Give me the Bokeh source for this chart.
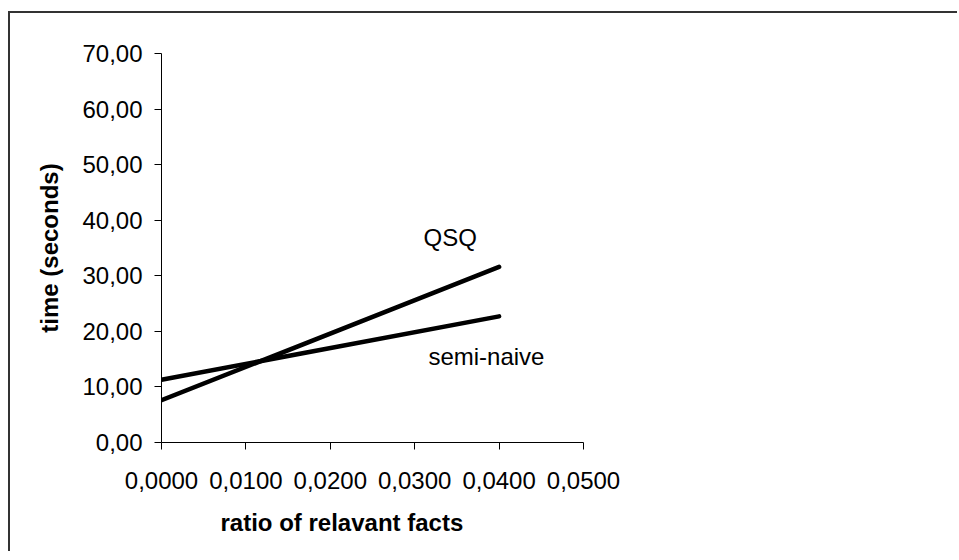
from bokeh.plotting import figure
from bokeh.models import Range1d, FixedTicker, Title, Label
from bokeh.embed import file_html
from bokeh.resources import INLINE

# ---- data ----
ratio = [0.0, 0.04]
qsq = [7.6, 31.6]
semi_naive = [11.3, 22.7]

x_ticks = [0.0, 0.01, 0.02, 0.03, 0.04, 0.05]
x_tick_labels = ["0,0000", "0,0100", "0,0200", "0,0300", "0,0400", "0,0500"]
y_ticks = [0, 10, 20, 30, 40, 50, 60, 70]
y_tick_labels = ["0,00", "10,00", "20,00", "30,00", "40,00", "50,00", "60,00", "70,00"]

series_names = ["QSQ", "semi-naive"]
label_x = [0.0342, 0.0385]
label_y = [36.8, 15.4]

FONT = "Liberation Sans"

p = figure(width=949, height=540, output_backend="svg", toolbar_location=None,
           x_range=Range1d(0, 0.05), y_range=Range1d(0, 70),
           min_border_left=151, min_border_right=376,
           min_border_top=40, min_border_bottom=111,
           background_fill_color="white", border_fill_color="white",
           styles={"margin-left": "10px", "margin-top": "13px",
                   "box-shadow": "-2px -2px 0px 0px #333333"})
p.outline_line_color = None
p.xgrid.grid_line_color = None
p.ygrid.grid_line_color = None

for ax in (p.xaxis[0], p.yaxis[0]):
    ax.axis_line_color = "black"
    ax.axis_line_width = 1
    ax.major_tick_line_color = "black"
    ax.major_tick_in = 0
    ax.major_tick_out = 7
    ax.minor_tick_line_color = None
    ax.major_label_text_font = FONT
    ax.major_label_text_font_size = "24px"
    ax.major_label_text_color = "black"

p.xaxis[0].ticker = FixedTicker(ticks=x_ticks)
p.xaxis[0].major_label_overrides = dict(zip(x_ticks, x_tick_labels))
p.xaxis[0].major_label_standoff = 22

p.yaxis[0].ticker = FixedTicker(ticks=y_ticks)
p.yaxis[0].major_label_overrides = dict(zip(y_ticks, y_tick_labels))
p.yaxis[0].major_label_standoff = 12
p.yaxis[0].axis_label = "time (seconds)"
p.yaxis[0].axis_label_text_font = FONT
p.yaxis[0].axis_label_text_font_size = "24px"
p.yaxis[0].axis_label_text_font_style = "bold"
p.yaxis[0].axis_label_text_color = "black"
p.yaxis[0].axis_label_standoff = 16

xt = Title(text="ratio of relavant facts", align="left", offset=59,
           text_font=FONT, text_font_size="24px", text_font_style="bold",
           text_color="black", standoff=31)
p.add_layout(xt, "below")

p.line(ratio, qsq, line_width=4.5, line_color="black", line_cap="round")
p.line(ratio, semi_naive, line_width=4.5, line_color="black", line_cap="round")

for name, lx, ly in zip(series_names, label_x, label_y):
    p.add_layout(Label(x=lx, y=ly, text=name, text_font=FONT, text_font_size="24px",
                       text_color="black", text_align="center", text_baseline="middle"))

open("out.html", "w").write(file_html(p, INLINE))
